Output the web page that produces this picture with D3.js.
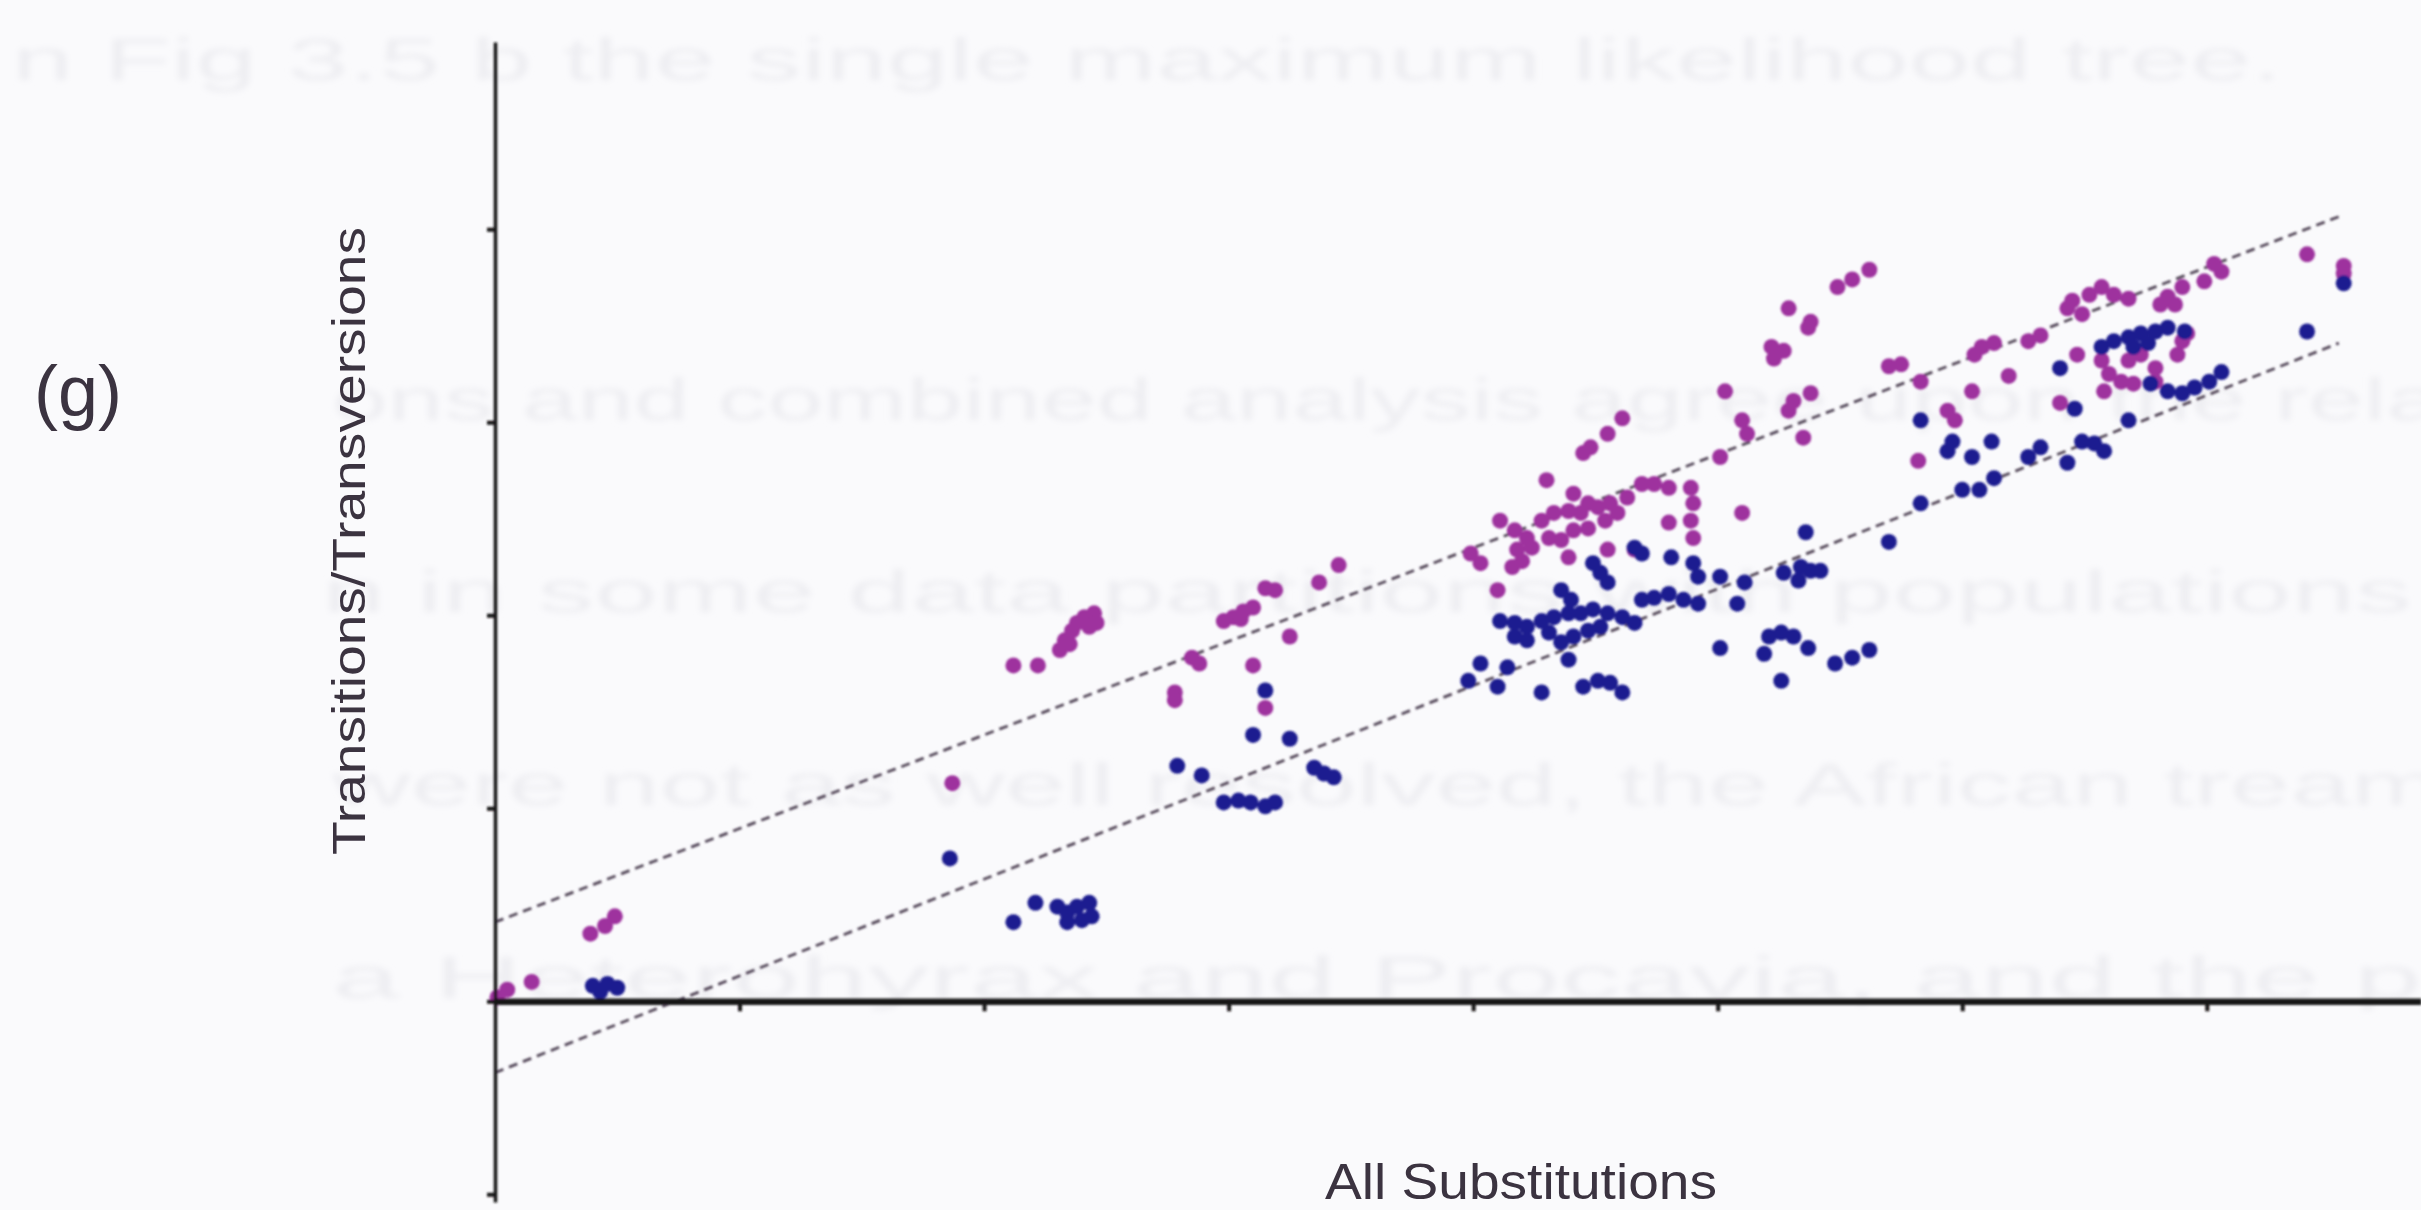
<!DOCTYPE html>
<html>
<head>
<meta charset="utf-8">
<script src="https://cdn.jsdelivr.net/npm/d3@7"></script>
<style>
  html, body { margin: 0; padding: 0; background: #fafafc; }
  svg { display: block; }
</style>
</head>
<body>
<div id="chart"></div>
<script>
// tick positions (no labels printed on the original)
var xTicks = [1, 2, 3, 4, 5, 6, 7];
var yTicks = [-1, 0, 1, 2, 3, 4];

// transitions (magenta) and transversions (blue)
var magenta = [
  [0.01,0.02],[0.05,0.06],[0.15,0.10],[0.39,0.35],[0.45,0.39],[0.49,0.44],
  [1.87,1.13],[2.12,1.74],[2.22,1.74],[2.31,1.82],[2.33,1.87],[2.36,1.92],[2.38,1.96],[2.41,1.99],[2.45,2.01],[2.46,1.96],[2.43,1.94],[2.35,1.85],
  [2.78,1.60],[2.78,1.56],[2.88,1.75],[2.85,1.78],[2.98,1.97],[3.02,1.99],[3.06,2.02],[3.10,2.04],[3.05,1.98],[3.15,2.14],[3.19,2.13],[3.10,1.74],[3.15,1.52],[3.25,1.89],[3.37,2.17],[3.45,2.26],
  [5.62,3.79],[5.55,3.74],[5.49,3.70],[5.29,3.59],[5.38,3.52],[5.37,3.49],[5.22,3.39],[5.27,3.37],[5.23,3.33],[5.70,3.29],[5.03,3.16],[5.38,3.15],[5.31,3.11],[5.29,3.06],[5.35,2.92],[5.10,3.01],[5.12,2.94],[5.01,2.82],
  [4.61,3.02],[4.55,2.94],[4.48,2.87],[4.45,2.84],[4.30,2.70],[4.89,2.66],[4.90,2.58],[4.89,2.49],[4.90,2.40],[5.10,2.53],[4.41,2.63],[4.47,2.58],
  [4.11,2.49],[4.17,2.44],[4.22,2.40],[4.28,2.49],[4.33,2.53],[4.39,2.54],[4.44,2.53],[4.51,2.56],[4.56,2.58],[4.63,2.61],[4.69,2.68],[4.74,2.68],[4.80,2.66],
  [4.18,2.34],[4.24,2.35],[4.31,2.40],[4.36,2.39],[4.41,2.44],[4.47,2.45],[4.54,2.49],[4.59,2.53],[4.16,2.25],[4.20,2.28],[4.39,2.30],[3.99,2.32],[4.03,2.27],[4.10,2.13],[4.55,2.34],[4.66,2.34],[4.80,2.48],
  [7.41,3.87],[7.56,3.81],[7.56,3.77],[7.06,3.78],[7.03,3.82],[6.99,3.73],[6.90,3.70],[6.84,3.65],[6.87,3.61],[6.81,3.61],[6.68,3.64],[6.62,3.66],[6.57,3.70],[6.52,3.66],[6.45,3.63],[6.43,3.59],[6.49,3.56],
  [6.32,3.45],[6.27,3.42],[6.13,3.41],[6.08,3.39],[6.05,3.35],[5.83,3.21],[5.75,3.30],[6.19,3.24],[6.04,3.16],[6.47,3.35],[5.94,3.06],[5.97,3.01],[5.82,2.80],[6.40,3.10],
  [6.57,3.32],[6.60,3.25],[6.58,3.16],[6.65,3.21],[6.70,3.20],[6.79,3.28],[6.79,3.21],[6.90,3.42],[6.92,3.46],[6.88,3.35],[6.68,3.32],[6.73,3.35]
];

var blue = [
  [0.40,0.08],[0.46,0.09],[0.50,0.07],[0.43,0.05],
  [1.86,0.74],[2.12,0.41],[2.21,0.51],[2.30,0.49],[2.34,0.46],[2.38,0.49],[2.43,0.51],[2.44,0.44],[2.34,0.41],[2.40,0.42],
  [3.15,1.61],[3.10,1.38],[3.25,1.36],[2.79,1.22],[2.89,1.17],[2.98,1.03],[3.04,1.04],[3.09,1.03],[3.15,1.01],[3.19,1.03],[3.35,1.21],[3.39,1.18],[3.43,1.16],
  [5.36,2.43],[5.70,2.38],[5.27,2.22],[5.33,2.18],[5.38,2.23],[5.42,2.23],[5.34,2.25],[5.01,2.20],[5.11,2.17],[5.08,2.06],[4.90,2.27],[4.92,2.20],[4.81,2.30],[4.69,2.32],[4.66,2.35],[4.52,2.22],[4.55,2.17],[4.49,2.27],
  [4.69,2.08],[4.74,2.09],[4.80,2.11],[4.86,2.08],[4.92,2.06],[4.36,2.13],[4.40,2.08],
  [4.11,1.97],[4.17,1.96],[4.22,1.94],[4.28,1.97],[4.33,1.99],[4.39,2.01],[4.44,2.01],[4.49,2.03],[4.55,2.01],[4.61,1.99],[4.66,1.96],
  [4.17,1.89],[4.22,1.87],[4.31,1.91],[4.36,1.86],[4.41,1.89],[4.47,1.92],[4.52,1.94],[4.39,1.77],[4.03,1.75],[4.14,1.73],[3.98,1.66],[4.10,1.63],[4.28,1.60],[4.45,1.63],[4.51,1.66],[4.56,1.65],[4.61,1.60],
  [5.01,1.83],[5.21,1.89],[5.26,1.91],[5.31,1.89],[5.37,1.83],[5.19,1.80],[5.26,1.66],[5.48,1.75],[5.55,1.78],[5.62,1.82],
  [7.56,3.72],[7.41,3.47],[6.40,3.28],[6.57,3.39],[6.62,3.42],[6.68,3.44],[6.73,3.46],[6.79,3.47],[6.84,3.49],[6.91,3.47],[6.70,3.39],[6.76,3.41],
  [6.77,3.20],[6.84,3.16],[6.90,3.15],[6.95,3.18],[7.01,3.21],[7.06,3.26],[6.46,3.07],[6.68,3.01],[6.49,2.90],[6.54,2.89],[6.58,2.85],[6.43,2.79],[6.32,2.87],[6.27,2.82],
  [6.12,2.90],[5.83,3.01],[5.96,2.90],[5.94,2.85],[6.04,2.82],[6.13,2.71],[6.07,2.65],[6.00,2.65],[5.83,2.58]
];

// two fitted lines, end points
var upperFit = [[0, 0.41], [7.55, 4.07]];
var lowerFit = [[0, -0.37], [7.54, 3.41]];

var xTitle = 'All Substitutions';
var yTitle = 'Transitions/Transversions';
var panelLabel = '(g)';

// page text that shows through the scan
var pageText = [
  'n Fig 3.5 b the single maximum likelihood tree.',
  'ons and combined analysis agree upon the rela',
  'n in some data partitions with populations',
  'were not as well resolved, the African tream',
  'a Heterohyrax and Procavia, and the p'
];

var W = 2421, H = 1210;
var font = "'Liberation Sans', Arial, Helvetica, sans-serif";

var svg = d3.select('#chart').append('svg')
  .attr('width', W)
  .attr('height', H);

var defs = svg.append('defs');
defs.append('filter').attr('id', 'soft')
  .append('feGaussianBlur').attr('stdDeviation', 1.1);
defs.append('filter').attr('id', 'ghost')
  .append('feGaussianBlur').attr('stdDeviation', 3);

svg.append('rect')
  .attr('width', W)
  .attr('height', H)
  .attr('fill', '#fafafc');

// faint page text behind the figure
var ghostPos = [[12, 80, 2270], [332, 420, 2110], [322, 612, 2090], [332, 805, 2110], [332, 998, 2090]];
var ghost = svg.append('g')
  .attr('filter', 'url(#ghost)')
  .attr('fill', '#eeeef2')
  .attr('font-family', font)
  .attr('font-size', 60);

ghost.selectAll('text')
  .data(pageText)
  .enter().append('text')
  .attr('x', function(d, i){ return ghostPos[i][0]; })
  .attr('y', function(d, i){ return ghostPos[i][1]; })
  .attr('textLength', function(d, i){ return ghostPos[i][2]; })
  .attr('lengthAdjust', 'spacingAndGlyphs')
  .text(function(d){ return d; });

var x = d3.scaleLinear().domain([0, 7.876]).range([495, W]);
var y = d3.scaleLinear().domain([-1.04, 4.97]).range([1202, 42]);

var plot = svg.append('g').attr('filter', 'url(#soft)');

// fitted lines
var line = d3.line()
  .x(function(d){ return x(d[0]); })
  .y(function(d){ return y(d[1]); });

plot.selectAll('path.fit')
  .data([upperFit, lowerFit])
  .enter().append('path')
  .attr('class', 'fit')
  .attr('d', line)
  .attr('fill', 'none')
  .attr('stroke', '#54485a')
  .attr('stroke-width', 2.8)
  .attr('stroke-dasharray', '9,6');

// points
plot.append('g').selectAll('circle')
  .data(magenta)
  .enter().append('circle')
  .attr('cx', function(d){ return x(d[0]); })
  .attr('cy', function(d){ return y(d[1]); })
  .attr('r', 8)
  .attr('fill', '#9e329e');

plot.append('g').selectAll('circle')
  .data(blue)
  .enter().append('circle')
  .attr('cx', function(d){ return x(d[0]); })
  .attr('cy', function(d){ return y(d[1]); })
  .attr('r', 8)
  .attr('fill', '#1f1f90');

// axes
var xAxis = plot.append('g')
  .attr('transform', 'translate(0,' + y(0) + ')')
  .call(d3.axisBottom(x).tickValues(xTicks).tickSize(10).tickSizeOuter(0).tickFormat(''));
xAxis.select('.domain').attr('stroke', '#171215').attr('stroke-width', 6.5);
xAxis.selectAll('.tick line').attr('stroke', '#171215').attr('stroke-width', 4);

var yAxis = plot.append('g')
  .attr('transform', 'translate(' + x(0) + ',0)')
  .call(d3.axisLeft(y).tickValues(yTicks).tickSize(8).tickSizeOuter(0).tickFormat(''));
yAxis.select('.domain').attr('stroke', '#171215').attr('stroke-width', 3.5);
yAxis.selectAll('.tick line').attr('stroke', '#171215').attr('stroke-width', 4);

// titles
svg.append('text')
  .attr('x', 1325)
  .attr('y', 1199)
  .attr('font-family', font)
  .attr('font-size', 50)
  .attr('fill', '#3b3340')
  .attr('textLength', 392)
  .attr('lengthAdjust', 'spacingAndGlyphs')
  .text(xTitle);

svg.append('text')
  .attr('transform', 'translate(365,541) rotate(-90)')
  .attr('text-anchor', 'middle')
  .attr('font-family', font)
  .attr('font-size', 46)
  .attr('fill', '#3b3340')
  .attr('textLength', 628)
  .attr('lengthAdjust', 'spacingAndGlyphs')
  .text(yTitle);

svg.append('text')
  .attr('x', 34)
  .attr('y', 416)
  .attr('font-family', font)
  .attr('font-size', 72)
  .attr('fill', '#3b3340')
  .attr('textLength', 88)
  .attr('lengthAdjust', 'spacingAndGlyphs')
  .text(panelLabel);
</script>
</body>
</html>
